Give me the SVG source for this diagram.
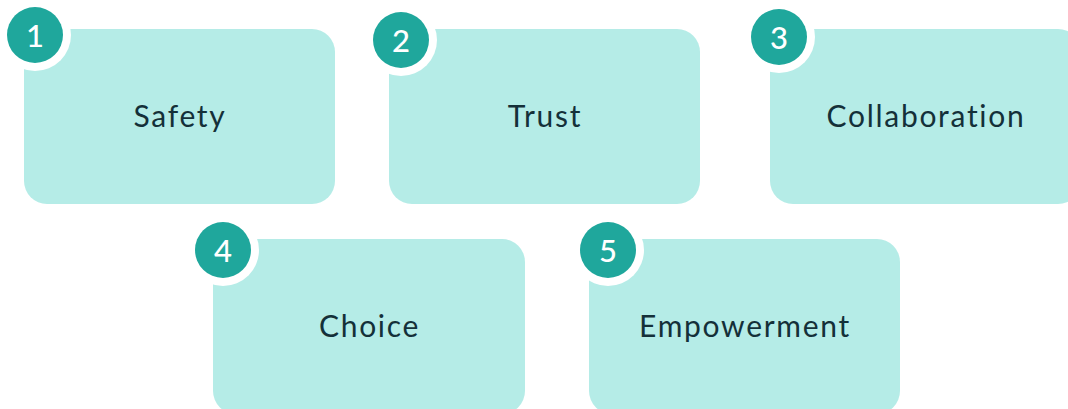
<svg xmlns="http://www.w3.org/2000/svg" width="1068" height="409" viewBox="0 0 1068 409">
<style>
.box{fill:#b5ece7}
.ring{fill:#ffffff}
.badge{fill:#1fa79c}
.lbl{font-family:Lato,"Noto Sans","Liberation Sans",sans-serif;font-size:30px;font-weight:400;letter-spacing:1.7px;fill:#143039;text-anchor:middle;dominant-baseline:central}
.num{font-family:Lato,"Noto Sans","Liberation Sans",sans-serif;font-size:31px;font-weight:500;fill:#ffffff;text-anchor:middle;dominant-baseline:central}
</style>
<rect width="1068" height="409" fill="#ffffff"/>
<g id="connectors"></g>
<g id="node1">
<rect class="box" x="24" y="29" width="311" height="175" rx="23"/>
<circle class="ring" cx="35" cy="35" r="36"/>
<circle class="badge" cx="35" cy="35" r="28"/>
<text class="num" x="35" y="35">1</text>
<text class="lbl" x="180" y="114.5">Safety</text>
</g>
<g id="node2">
<rect class="box" x="389" y="29" width="311" height="175" rx="23"/>
<circle class="ring" cx="401" cy="40" r="36"/>
<circle class="badge" cx="401" cy="40" r="28"/>
<text class="num" x="401" y="40">2</text>
<text class="lbl" x="545" y="114.5">Trust</text>
</g>
<g id="node3">
<rect class="box" x="770" y="29" width="311" height="175" rx="23"/>
<circle class="ring" cx="779" cy="37" r="36"/>
<circle class="badge" cx="779" cy="37" r="28"/>
<text class="num" x="779" y="37">3</text>
<text class="lbl" x="926" y="114.5">Collaboration</text>
</g>
<g id="node4">
<rect class="box" x="213" y="239" width="312" height="175" rx="23"/>
<circle class="ring" cx="223" cy="250" r="36"/>
<circle class="badge" cx="223" cy="250" r="28"/>
<text class="num" x="223" y="250">4</text>
<text class="lbl" x="369.5" y="324.5">Choice</text>
</g>
<g id="node5">
<rect class="box" x="589" y="239" width="311" height="175" rx="23"/>
<circle class="ring" cx="608" cy="250" r="36"/>
<circle class="badge" cx="608" cy="250" r="28"/>
<text class="num" x="608" y="250">5</text>
<text class="lbl" x="745" y="324.5">Empowerment</text>
</g>
</svg>
